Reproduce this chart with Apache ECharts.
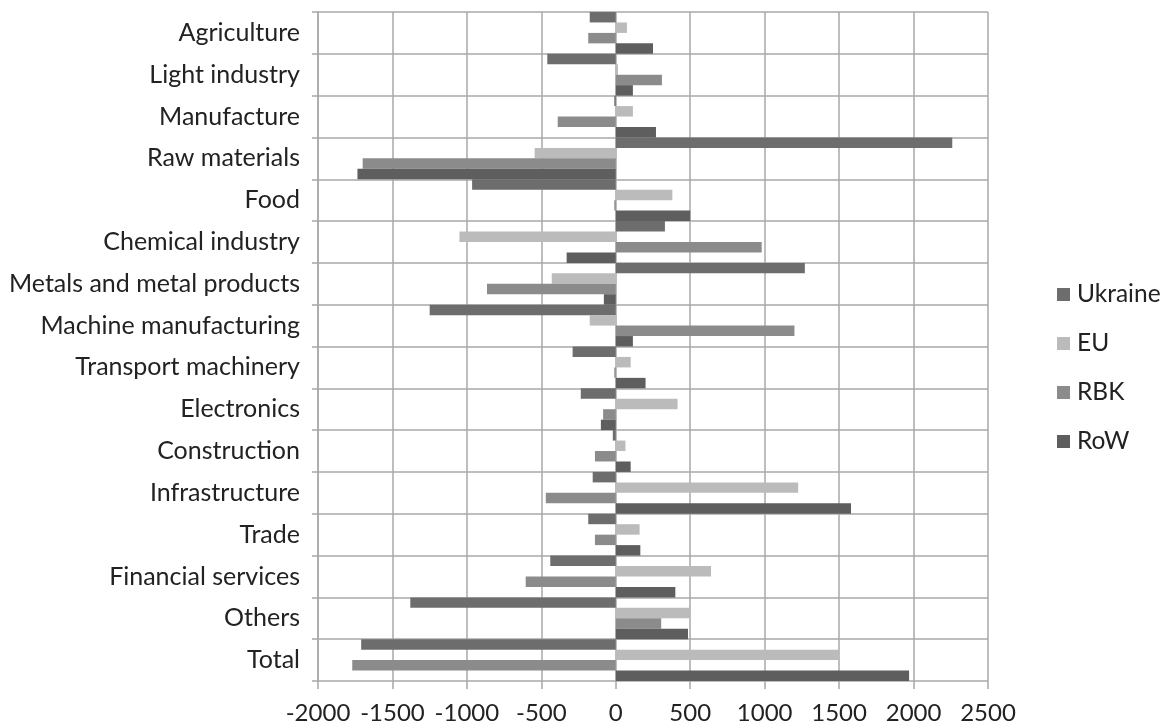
<!DOCTYPE html>
<html>
<head>
<meta charset="utf-8">
<script src="https://cdn.jsdelivr.net/npm/echarts@6/dist/echarts.min.js"></script>
<style>
  html, body { margin: 0; padding: 0; background: #fff; }
  #chart { width: 1162px; height: 727px; }
</style>
</head>
<body>
<div id="chart"></div>
<script>
// Sectors, listed top to bottom
const categories = [
  'Agriculture', 'Light industry', 'Manufacture', 'Raw materials', 'Food',
  'Chemical industry', 'Metals and metal products', 'Machine manufacturing',
  'Transport machinery', 'Electronics', 'Construction', 'Infrastructure',
  'Trade', 'Financial services', 'Others', 'Total'
];

// Values per partner, one entry per sector
const ukraine = [-175, -460, -10, 2260, -965, 330, 1270, -1250, -290, -235, -20, -155, -185, -440, -1380, -1710];
const eu      = [75, 15, 115, -545, 380, -1050, -430, -175, 100, 415, 65, 1225, 160, 640, 500, 1500];
const rbk     = [-185, 310, -390, -1700, -10, 980, -865, 1200, -10, -85, -140, -470, -140, -605, 305, -1770];
const row     = [250, 115, 270, -1735, 500, -330, -80, 115, 200, -100, 100, 1580, 165, 400, 485, 1970];

const seriesNames = ['Ukraine', 'EU', 'RBK', 'RoW'];
const seriesColors = ['#6d6d6d', '#bbbbbb', '#8b8b8b', '#5e5e5e'];
const seriesData = [ukraine, eu, rbk, row];

const FONT = 'Lato';
const gridColor = '#a8a8a8';

const chart = echarts.init(document.getElementById('chart'), null, { renderer: 'canvas' });

chart.setOption({
  animation: false,
  backgroundColor: '#ffffff',
  textStyle: { fontFamily: FONT },
  grid: { left: 318, right: 174, top: 12, bottom: 46, containLabel: false },
  legend: {
    orient: 'vertical',
    left: 1057,
    top: 282,
    padding: 0,
    itemWidth: 13,
    itemHeight: 13,
    itemGap: 24,
    icon: 'rect',
    textStyle: { fontFamily: FONT, fontSize: 24.5, color: '#222', lineHeight: 24, padding: [0, 0, 0, 2] },
    data: seriesNames
  },
  xAxis: {
    type: 'value',
    min: -2000,
    max: 2500,
    interval: 500,
    axisLine: { show: false },
    axisTick: { show: true, length: 8, lineStyle: { color: gridColor, width: 1.5 } },
    splitLine: { show: true, lineStyle: { color: gridColor, width: 1.5 } },
    axisLabel: {
      fontFamily: FONT, fontSize: 24, color: '#222', margin: 20,
      formatter: (v) => String(v)
    }
  },
  yAxis: {
    type: 'category',
    inverse: true,
    data: categories,
    axisLine: { show: true, onZero: false, lineStyle: { color: gridColor, width: 1.5 } },
    axisTick: { show: true, length: 6, lineStyle: { color: gridColor, width: 1.5 } },
    splitLine: { show: true, lineStyle: { color: gridColor, width: 1.5 } },
    axisLabel: { fontFamily: FONT, fontSize: 25, color: '#222', margin: 18 }
  },
  series: seriesNames.map((name, i) => ({
    name: name,
    type: 'bar',
    data: seriesData[i],
    barGap: '0%',
    barCategoryGap: '0%',
    itemStyle: { color: seriesColors[i] }
  }))
});
</script>
</body>
</html>
